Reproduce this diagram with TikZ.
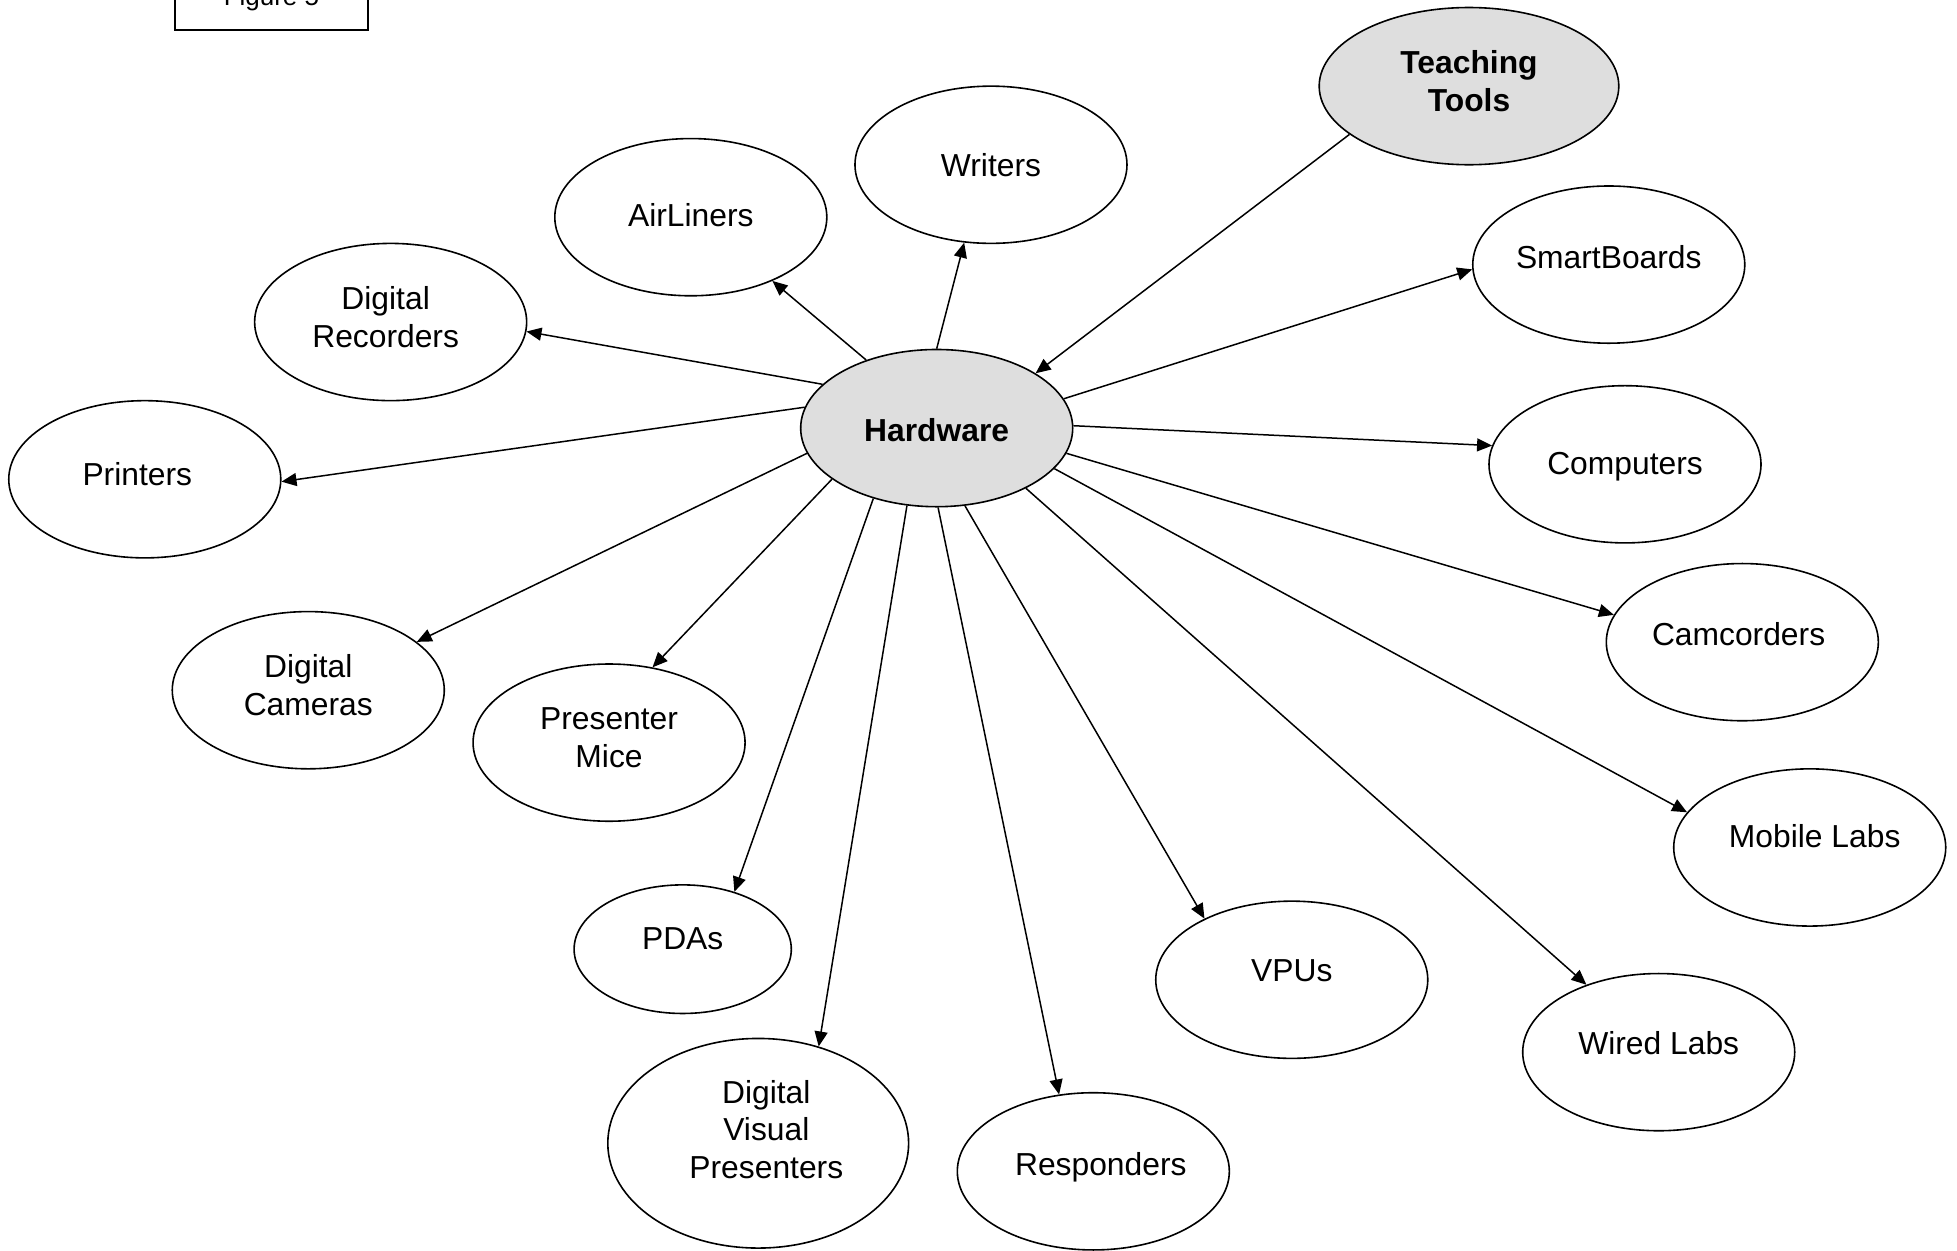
\documentclass[tikz,border=0pt]{standalone}
\usepackage{fontspec}
\setmainfont{Liberation Sans}
\usetikzlibrary{arrows.meta,shapes.geometric}
\begin{document}
\begin{tikzpicture}[x=0.624pt,y=-0.624pt,
  font=\fontsize{15.9pt}{18.7pt}\selectfont,
  bubble/.style={draw,ellipse,line width=0.8pt,inner sep=0pt,fill=white,
    minimum width=136pt,minimum height=78.6pt},
  hub/.style={bubble,fill=black!13},
  txt/.style={align=center,inner sep=0pt},
  conn/.style={line width=0.75pt,-{Triangle[length=7.5pt,width=6.5pt]}}]
\useasboundingbox (0,0) rectangle (1568,1001.6);
\clip (0,0) rectangle (1568,1001.6);

% caption box, partly cut by the page edge
\node[draw,line width=0.8pt,minimum width=96.7pt,minimum height=31.2pt,inner sep=0pt,
  font=\fontsize{13pt}{15pt}\selectfont] (fig) at (217.5,-1) {Figure 5};

% ellipses
\node[hub] (hw) at (750.5,343) {};
\node[txt,font=\fontsize{15.9pt}{18.7pt}\selectfont\bfseries] (hw-t) at (750.5,345) {Hardware};
\node[hub,minimum width=149.8pt] (tt) at (1177,69) {};
\node[txt,font=\fontsize{15.9pt}{18.7pt}\selectfont\bfseries] (tt-t) at (1177,65) {Teaching\\Tools};

\node[bubble] (wr) at (794,132) {};
\node[txt] (wr-t) at (794,132) {Writers};
\node[bubble] (air) at (553.5,174) {};
\node[txt] (air-t) at (553.5,172) {AirLiners};
\node[bubble] (dr) at (313,258) {};
\node[txt] (dr-t) at (309,254) {Digital\\Recorders};
\node[bubble] (pr) at (116,384) {};
\node[txt] (pr-t) at (110,380) {Printers};
\node[bubble] (dc) at (247,553) {};
\node[txt] (dc-t) at (247,549) {Digital\\Cameras};
\node[bubble] (pm) at (488,595) {};
\node[txt] (pm-t) at (488,591) {Presenter\\Mice};
\node[bubble,minimum width=108.6pt,minimum height=64.3pt] (pda) at (547,760.5) {};
\node[txt] (pda-t) at (547,752) {PDAs};
\node[bubble,minimum width=150.4pt,minimum height=104.8pt] (dvp) at (607.5,916) {};
\node[txt] (dvp-t) at (614,905) {Digital\\Visual\\Presenters};
\node[bubble] (rsp) at (876,938.5) {};
\node[txt] (rsp-t) at (882,935) {Responders};
\node[bubble] (vpu) at (1035,785) {};
\node[txt] (vpu-t) at (1035,778) {VPUs};
\node[bubble] (wl) at (1329,843) {};
\node[txt] (wl-t) at (1329,836) {Wired Labs};
\node[bubble] (ml) at (1450,679) {};
\node[txt] (ml-t) at (1454,670) {Mobile Labs};
\node[bubble] (cam) at (1396,514.5) {};
\node[txt] (cam-t) at (1393,508) {Camcorders};
\node[bubble] (cmp) at (1302,372) {};
\node[txt] (cmp-t) at (1302,374) {Computers};
\node[bubble] (sb) at (1289,212) {};
\node[txt] (sb-t) at (1289,206) {SmartBoards};

% connectors
\draw[conn] (hw.171.5) -- (pr.-1);
\draw[conn] (hw.159.5) -- (dr.-4.8);
\draw[conn] (hw.136.8) -- (air.-38.1);
\draw[conn] (hw.90.5) -- (wr.251.8);
\draw[conn] (tt.202.1) -- (hw.29.9);
\draw[conn] (hw.13.7) -- (sb.182.6);
\draw[conn] (hw.1) -- (cmp.172.7);
\draw[conn] (hw.-11.7) -- (cam.168.3);
\draw[conn] (hw.-19.4) -- (ml.164.1);
\draw[conn] (hw.-34.8) -- (wl.137.7);
\draw[conn] (hw.-70.9) -- (vpu.145.2);
\draw[conn] (hw.-89.6) -- (rsp.114.8);
\draw[conn] (hw.-111.6) -- (dvp.58.5);
\draw[conn] (hw.228.5) -- (pda.48.7);
\draw[conn] (hw.206.7) -- (pm.60.8);
\draw[conn] (hw.191.5) -- (dc.24.4);
\end{tikzpicture}
\end{document}
